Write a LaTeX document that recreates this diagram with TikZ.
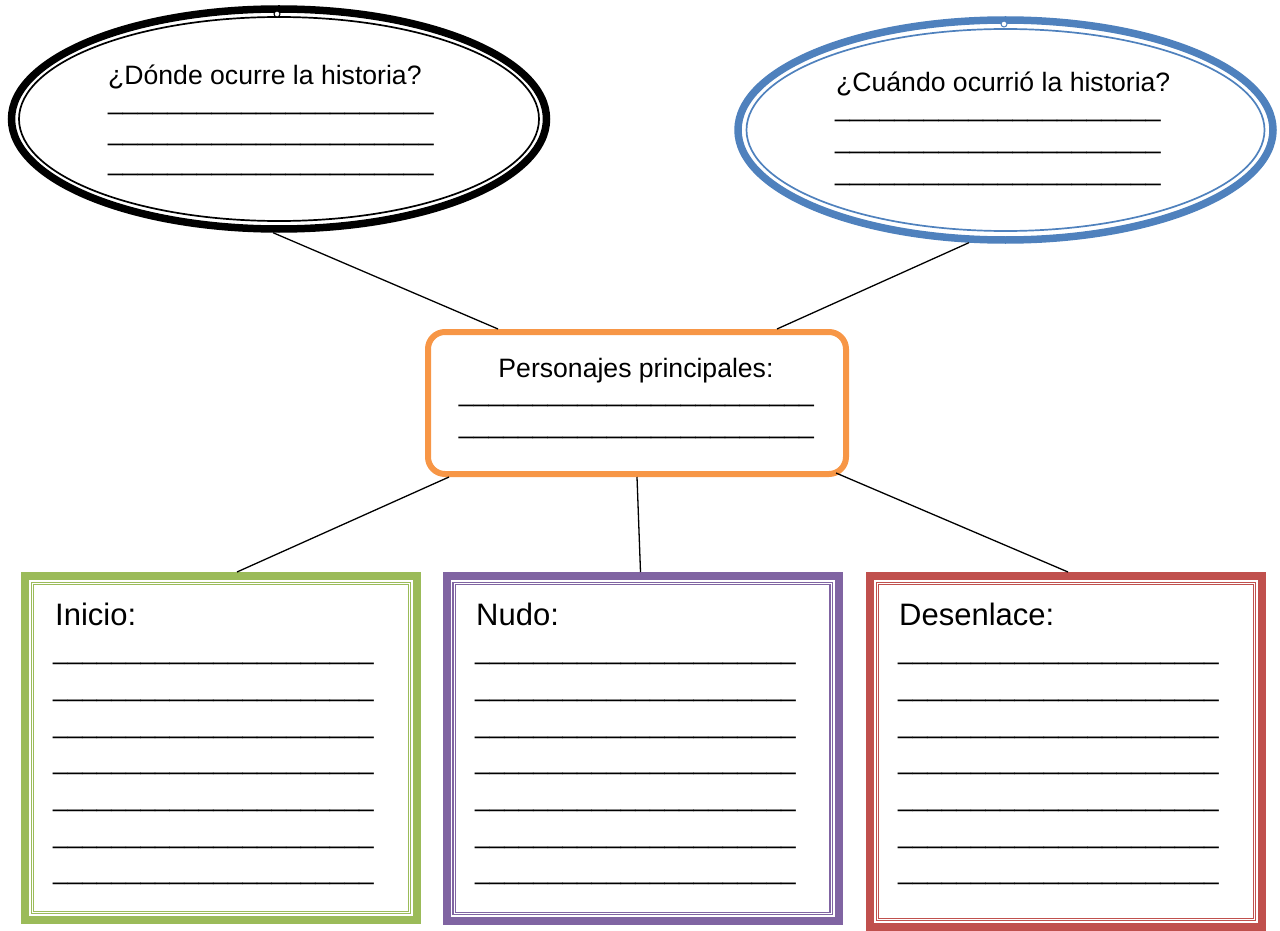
\documentclass[tikz,border=0pt]{standalone}
\usepackage{fontspec}
\setmainfont{Liberation Sans}
\usetikzlibrary{shapes.geometric,calc}
\definecolor{cblue}{HTML}{4F81BD}
\definecolor{corange}{HTML}{F79646}
\definecolor{cgreen}{HTML}{9BBB59}
\definecolor{cpurple}{HTML}{8064A2}
\definecolor{cred}{HTML}{C0504D}
\newcommand\ulA{\_\_\_\_\_\_\_\_\_\_\_\_\_\_\_\_\_\_\_\_\_\_}
\newcommand\ulB{\ulA\_\_}
\begin{document}
\begin{tikzpicture}[x=1pt,y=-1pt,
  bubble/.style={ellipse, draw, line width=7.5pt, inner sep=0pt, minimum width=535pt, minimum height=220pt},
  card/.style={rectangle, draw, line width=8pt, inner sep=0pt, minimum width=392pt},
  conn/.style={draw=black, line width=1.3pt},
  txt/.style={anchor=base west, inner sep=0pt, font=\fontsize{26.6}{30}\selectfont},
  btxt/.style={anchor=base west, inner sep=0pt, font=\fontsize{26.2}{30}\selectfont},
  ctxt/.style={anchor=base, inner sep=0pt, font=\fontsize{26.6}{30}\selectfont},
  head/.style={anchor=base west, inner sep=0pt, font=\fontsize{31}{36}\selectfont},
  innerline/.style={line width=1.3pt, double=white, double distance=1pt}
]
\useasboundingbox (0,0) rectangle (1280,931);

% top ellipses
\node[bubble, draw=black] (e1) at (279,119) {};
\draw[black, line width=1.7pt] (e1.center) ellipse[x radius=260pt, y radius=102pt];
\draw[black, line width=1pt, fill=white] (277,14) circle[radius=3pt];
\node[bubble, draw=cblue] (e2) at (1005.5,130) {};
\draw[cblue, line width=1.7pt] (e2.center) ellipse[x radius=259pt, y radius=101pt];
\draw[cblue, line width=1pt, fill=white] (1004,24) circle[radius=3pt];

\node[txt] (q1) at (108,85) {¿Dónde ocurre la historia?};
\foreach \i in {0,1,2} \node[txt] (q1l\i) at (108,{110+30.5*\i}) {\ulA};
\node[txt] (q2) at (836,92) {¿Cuándo ocurrió la historia?};
\foreach \i in {0,1,2} \node[txt] (q2l\i) at (835,{117+31.5*\i}) {\ulA};

% central box
\node[rectangle, draw=corange, line width=6pt, rounded corners=17pt, inner sep=0pt,
      minimum width=418pt, minimum height=142pt] (o) at (637,403) {};
\node[ctxt] (pt) at (636,377) {Personajes principales:};
\foreach \i in {0,1} \node[ctxt] (pl\i) at (636.5,{401+32*\i}) {\ulB};

% bottom cards
\node[card, draw=cgreen, minimum height=344pt] (g) at (221,748) {};
\draw[cgreen, innerline] ($(g.north west)+(11.5,11.5)$) rectangle ($(g.south east)+(-11.5,-11.5)$);
\node[card, draw=cpurple, minimum height=345pt] (p) at (642.5,748.5) {};
\draw[cpurple, innerline] ($(p.north west)+(11.5,11.5)$) rectangle ($(p.south east)+(-11.5,-11.5)$);
\node[card, draw=cred, minimum height=351pt] (r) at (1066,751.5) {};
\draw[cred, innerline] ($(r.north west)+(11.5,11.5)$) rectangle ($(r.south east)+(-11.5,-11.5)$);

\node[head] (gh) at (55,625) {Inicio:};
\node[head] (ph) at (476,625) {Nudo:};
\node[head] (rh) at (899,625) {Desenlace:};
\foreach \i in {0,...,6} {
  \node[btxt] (gl\i) at (53,{659.7+36.67*\i}) {\ulA};
  \node[btxt] (pul\i) at (475,{659.7+36.67*\i}) {\ulA};
  \node[btxt] (rl\i) at (898,{659.7+36.67*\i}) {\ulA};
}

% connectors
\draw[conn] (e1.-93.5) -- ([xshift=-139pt]o.north);
\draw[conn] (e2.-108.4) -- ([xshift=140pt]o.north);
\draw[conn] ([xshift=-188pt]o.south) -- ([xshift=16pt]g.north);
\draw[conn] (o.south) -- ([xshift=-2pt]p.north);
\draw[conn] ([xshift=199pt,yshift=4pt]o.south) -- ([xshift=2pt]r.north);
\end{tikzpicture}
\end{document}
